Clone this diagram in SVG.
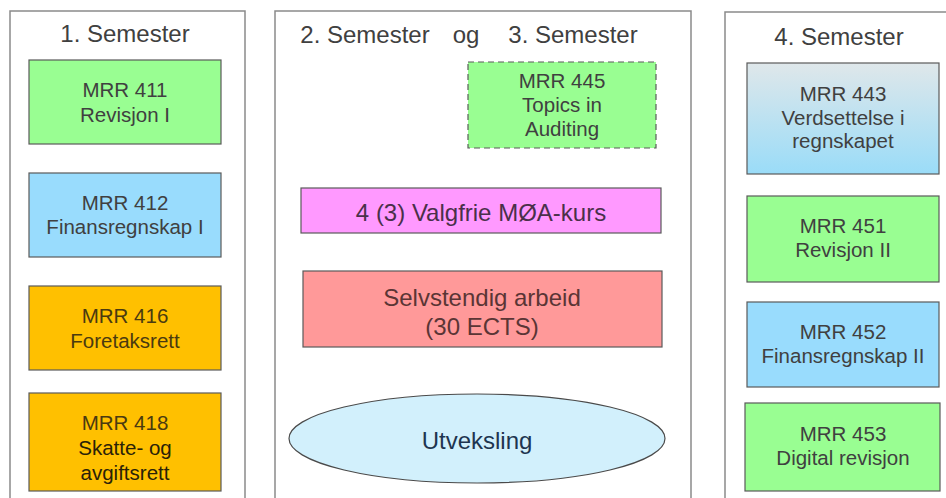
<svg xmlns="http://www.w3.org/2000/svg" width="946" height="498" viewBox="0 0 946 498">
<defs>
<linearGradient id="g443" x1="0" y1="0" x2="0" y2="1">
<stop offset="0" stop-color="#dfe7ea"/>
<stop offset="1" stop-color="#9adcf8"/>
</linearGradient>
</defs>
<style>
text{font-family:"Liberation Sans",Arial,sans-serif;text-anchor:middle;fill:#404040}
.t{font-size:24px}
.c{font-size:20.5px}
.b{font-size:24px}
.panel{fill:#ffffff;stroke:#8a8a8a;stroke-width:1.5}
.box{stroke:#5a5a5a;stroke-width:1.2}
.green{fill:#99fe92}
.blue{fill:#99dcfd}
.orange{fill:#ffc000}
.or text{fill:#4a3a10}
</style>
<rect width="946" height="498" fill="#ffffff"/>
<g id="panels">
<rect class="panel" x="10" y="11" width="235" height="500"/>
<rect class="panel" x="275" y="11" width="416" height="500"/>
<rect class="panel" x="725" y="12" width="240" height="500"/>
</g>
<g id="titles">
<text class="t" x="125" y="42">1. Semester</text>
<text class="t" x="365" y="43">2. Semester</text>
<text class="t" x="466" y="43">og</text>
<text class="t" x="573" y="43">3. Semester</text>
<text class="t" x="839" y="45">4. Semester</text>
</g>
<g id="mrr411">
<rect class="box green" x="29" y="60" width="192" height="84"/>
<text class="c" x="125" y="97">MRR 411</text>
<text class="c" x="125" y="122">Revisjon I</text>
</g>
<g id="mrr412">
<rect class="box blue" x="29" y="173" width="192" height="84"/>
<text class="c" x="125" y="210">MRR 412</text>
<text class="c" x="125" y="234">Finansregnskap I</text>
</g>
<g id="mrr416" class="or">
<rect class="box orange" x="29" y="286" width="192" height="84"/>
<text class="c" x="125" y="323">MRR 416</text>
<text class="c" x="125" y="348">Foretaksrett</text>
</g>
<g id="mrr418" class="or">
<rect class="box orange" x="29" y="393" width="192" height="98"/>
<text class="c" x="125" y="430">MRR 418</text>
<text class="c" x="125" y="455" style="fill:#2a2208">Skatte- og</text>
<text class="c" x="125" y="480" style="fill:#2a2208">avgiftsrett</text>
</g>
<g id="mrr445">
<rect class="green" x="468" y="62" width="188" height="86" stroke="#5a5a5a" stroke-width="1.2" stroke-dasharray="6,4"/>
<text class="c" x="562" y="88">MRR 445</text>
<text class="c" x="562" y="112">Topics in</text>
<text class="c" x="562" y="136">Auditing</text>
</g>
<g id="valgfrie">
<rect class="box" x="301" y="188" width="360" height="45" fill="#ff99ff"/>
<text class="b" x="481" y="221" style="fill:#4a304a">4 (3) Valgfrie MØA-kurs</text>
</g>
<g id="selvstendig">
<rect class="box" x="303" y="271" width="359" height="76" fill="#ff9999"/>
<text class="b" x="482" y="306" style="fill:#5a3535">Selvstendig arbeid</text>
<text class="b" x="482" y="335" style="fill:#5a3535">(30 ECTS)</text>
</g>
<g id="utveksling">
<ellipse cx="477" cy="438.5" rx="188" ry="44.5" fill="#d2f0fc" stroke="#4a4a4a" stroke-width="1.2"/>
<text class="b" x="477" y="449" style="fill:#1e3550">Utveksling</text>
</g>
<g id="mrr443">
<rect class="box" x="747" y="63" width="192" height="111" fill="url(#g443)"/>
<text class="c" x="843" y="101">MRR 443</text>
<text class="c" x="843" y="125">Verdsettelse i</text>
<text class="c" x="843" y="148">regnskapet</text>
</g>
<g id="mrr451">
<rect class="box green" x="747" y="196" width="192" height="86"/>
<text class="c" x="843" y="233">MRR 451</text>
<text class="c" x="843" y="257">Revisjon II</text>
</g>
<g id="mrr452">
<rect class="box blue" x="747" y="302" width="192" height="85"/>
<text class="c" x="843" y="339">MRR 452</text>
<text class="c" x="843" y="363">Finansregnskap II</text>
</g>
<g id="mrr453">
<rect class="box green" x="745" y="403" width="195" height="88"/>
<text class="c" x="843" y="441">MRR 453</text>
<text class="c" x="843" y="465">Digital revisjon</text>
</g>
<g id="connectors"></g>
</svg>
